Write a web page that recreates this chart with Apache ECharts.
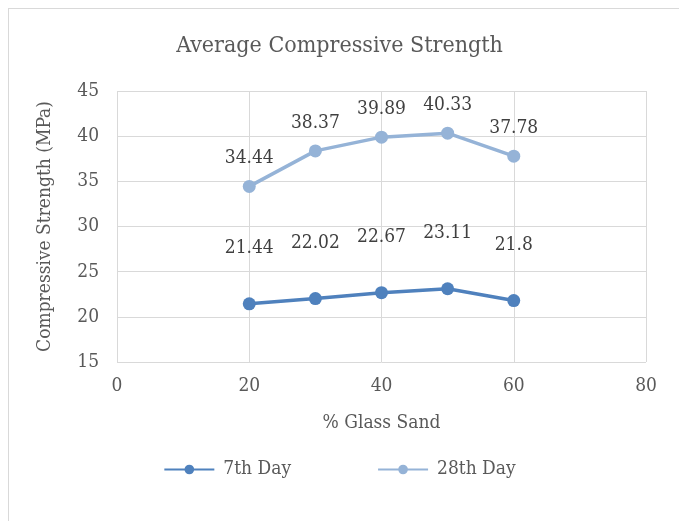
<!DOCTYPE html>
<html>
<head>
<meta charset="utf-8">
<script src="https://cdn.jsdelivr.net/npm/echarts@6/dist/echarts.min.js"></script>
<style>
  html, body { margin: 0; padding: 0; background: #fff; }
  #frame {
    position: absolute; left: 8px; top: 8px; width: 676px; height: 520px;
    border: 1px solid #d9d9d9; box-sizing: border-box;
  }
  #chart { position: absolute; left: 0; top: 0; width: 679px; height: 521px; }
</style>
</head>
<body>
<div id="frame"></div>
<div id="chart"></div>
<script>
const glassSand = [20, 30, 40, 50, 60]
const day7 = [21.44, 22.02, 22.67, 23.11, 21.8]
const day28 = [34.44, 38.37, 39.89, 40.33, 37.78]
const seriesNames = ['7th Day', '28th Day']

const font = '"DejaVu Serif Condensed", "DejaVu Serif", serif'
const textColor = '#595959'

const chart = echarts.init(document.getElementById('chart'))

function pairs(values) {
  return glassSand.map((x, i) => [x, values[i]])
}

chart.setOption({
  animation: false,
  color: ['#4f81bd', '#95b3d7'],
  title: {
    text: 'Average Compressive Strength',
    left: 'center',
    top: 30,
    textStyle: { fontFamily: font, fontSize: 23, fontWeight: 'normal', color: textColor },
  },
  legend: {
    data: seriesNames,
    bottom: 37,
    left: 'center',
    itemWidth: 50,
    itemHeight: 12,
    itemGap: 86,
    textStyle: { fontFamily: font, fontSize: 19, color: textColor, padding: [0, 0, 0, 4] },
  },
  grid: { left: 117, right: 33, top: 91, bottom: 159 },
  xAxis: {
    type: 'value',
    min: 0,
    max: 80,
    interval: 20,
    name: '% Glass Sand',
    nameLocation: 'middle',
    nameGap: 52,
    nameTextStyle: { fontFamily: font, fontSize: 19, color: textColor },
    axisLine: { show: false },
    axisTick: { show: false },
    axisLabel: { fontFamily: font, fontSize: 19, color: textColor, margin: 15 },
    splitLine: { show: true, lineStyle: { color: '#d9d9d9', width: 1 } },
  },
  yAxis: {
    type: 'value',
    min: 15,
    max: 45,
    interval: 5,
    name: 'Compressive Strength (MPa)',
    nameLocation: 'middle',
    nameGap: 62,
    nameTextStyle: { fontFamily: font, fontSize: 19, color: textColor },
    axisLine: { show: false },
    axisTick: { show: false },
    axisLabel: { fontFamily: font, fontSize: 19, color: textColor, margin: 18 },
    splitLine: { show: true, lineStyle: { color: '#d9d9d9', width: 1 } },
  },
  series: [
    {
      name: seriesNames[0],
      type: 'line',
      data: pairs(day7),
      symbol: 'circle',
      symbolSize: 13,
      lineStyle: { width: 3.5 },
      label: {
        show: true,
        position: 'top',
        distance: 40,
        fontFamily: font,
        fontSize: 19,
        color: '#404040',
      },
    },
    {
      name: seriesNames[1],
      type: 'line',
      data: pairs(day28),
      symbol: 'circle',
      symbolSize: 13,
      lineStyle: { width: 3.5 },
      label: {
        show: true,
        position: 'top',
        distance: 12,
        fontFamily: font,
        fontSize: 19,
        color: '#404040',
      },
    },
  ],
})
</script>
</body>
</html>
